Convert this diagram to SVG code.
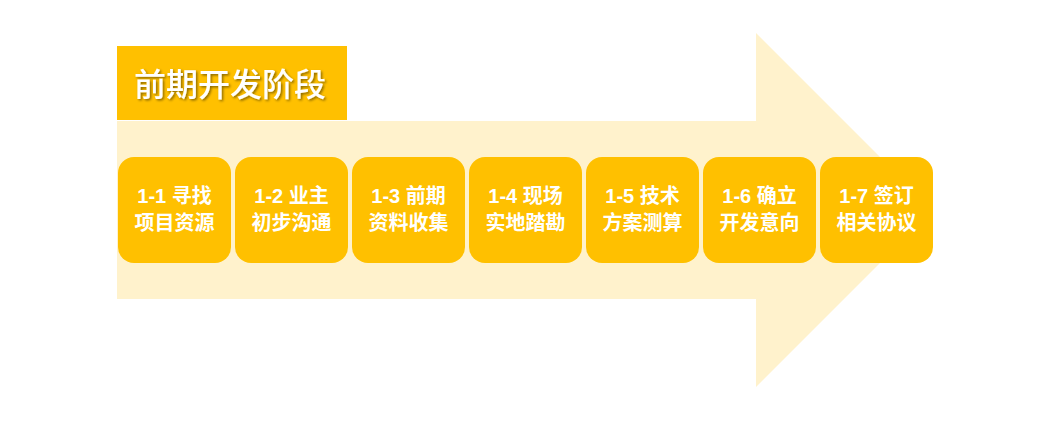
<svg xmlns="http://www.w3.org/2000/svg" width="1038" height="421" viewBox="0 0 1038 421">
<style>
.card{fill:#FFC000}
.ct{font-family:"Liberation Sans","Noto Sans CJK SC",sans-serif;font-size:20px;font-weight:bold;fill:#FFFFFF;text-anchor:middle}
.title{font-family:"Noto Sans CJK SC",sans-serif;font-size:32px;font-weight:500;fill:#FFFFFF}
</style>
<defs>
<filter id="sh" x="-10%" y="-20%" width="130%" height="150%">
<feDropShadow dx="1.5" dy="1.5" stdDeviation="1" flood-color="#000" flood-opacity="0.45"/>
</filter>
</defs>
<rect width="1038" height="421" fill="#FFFFFF"/>
<g id="arrow">
<polygon points="117,121 756,121 756,33 933,210 756,387 756,299 117,299" fill="#FFF2CC"/>
</g>
<g id="title">
<rect x="117" y="46" width="230" height="74" fill="#FFC000"/>
<text class="title" x="134" y="96" filter="url(#sh)">前期开发阶段</text>
</g>
<g id="connectors"></g>
<g id="n1"><rect class="card" x="118" y="157" width="113" height="106" rx="16"/><text class="ct" x="174.5" y="203">1-1 寻找</text><text class="ct" x="174.5" y="230">项目资源</text></g>
<g id="n2"><rect class="card" x="235" y="157" width="113" height="106" rx="16"/><text class="ct" x="291.5" y="203">1-2 业主</text><text class="ct" x="291.5" y="230">初步沟通</text></g>
<g id="n3"><rect class="card" x="352" y="157" width="113" height="106" rx="16"/><text class="ct" x="408.5" y="203">1-3 前期</text><text class="ct" x="408.5" y="230">资料收集</text></g>
<g id="n4"><rect class="card" x="469" y="157" width="113" height="106" rx="16"/><text class="ct" x="525.5" y="203">1-4 现场</text><text class="ct" x="525.5" y="230">实地踏勘</text></g>
<g id="n5"><rect class="card" x="586" y="157" width="113" height="106" rx="16"/><text class="ct" x="642.5" y="203">1-5 技术</text><text class="ct" x="642.5" y="230">方案测算</text></g>
<g id="n6"><rect class="card" x="703" y="157" width="113" height="106" rx="16"/><text class="ct" x="759.5" y="203">1-6 确立</text><text class="ct" x="759.5" y="230">开发意向</text></g>
<g id="n7"><rect class="card" x="820" y="157" width="113" height="106" rx="16"/><text class="ct" x="876.5" y="203">1-7 签订</text><text class="ct" x="876.5" y="230">相关协议</text></g>
</svg>
